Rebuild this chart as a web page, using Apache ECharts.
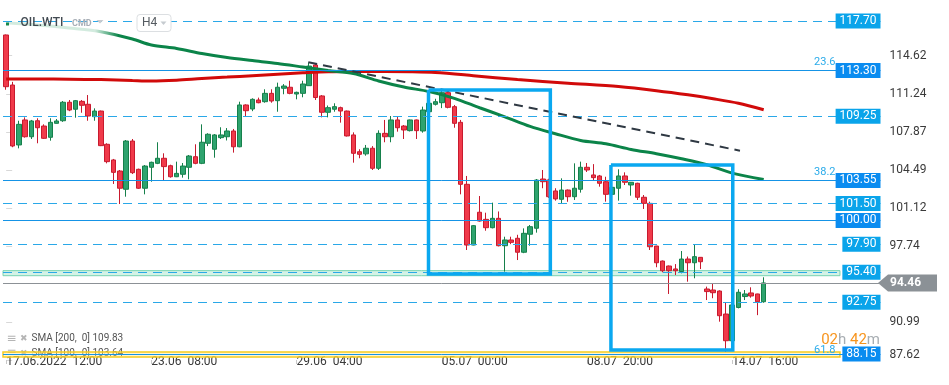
<!DOCTYPE html>
<html><head><meta charset="utf-8">
<script src="https://cdn.jsdelivr.net/npm/echarts@6/dist/echarts.min.js"></script>
<style>html,body{margin:0;padding:0;background:#fff;}#c{width:949px;height:385px;}</style>
</head><body><div id="c"></div>
<script>
// ================= DATA =================
const categories = [
 '17.06 12:00','17.06 16:00','17.06 20:00',
 '20.06 00:00','20.06 04:00','20.06 08:00','20.06 12:00','20.06 16:00','20.06 20:00',
 '21.06 00:00','21.06 04:00','21.06 08:00','21.06 12:00','21.06 16:00','21.06 20:00',
 '22.06 00:00','22.06 04:00','22.06 08:00','22.06 12:00','22.06 16:00','22.06 20:00',
 '23.06 00:00','23.06 04:00','23.06 08:00','23.06 12:00','23.06 16:00','23.06 20:00',
 '24.06 00:00','24.06 04:00','24.06 08:00','24.06 12:00','24.06 16:00','24.06 20:00',
 '27.06 00:00','27.06 04:00','27.06 08:00','27.06 12:00','27.06 16:00','27.06 20:00',
 '28.06 00:00','28.06 04:00','28.06 08:00','28.06 12:00','28.06 16:00','28.06 20:00',
 '29.06 00:00','29.06 04:00','29.06 08:00','29.06 12:00','29.06 16:00','29.06 20:00',
 '30.06 00:00','30.06 04:00','30.06 08:00','30.06 12:00','30.06 16:00','30.06 20:00',
 '01.07 00:00','01.07 04:00','01.07 08:00','01.07 12:00','01.07 16:00','01.07 20:00',
 '04.07 00:00','04.07 04:00','04.07 08:00','04.07 12:00','04.07 16:00','04.07 20:00',
 '05.07 00:00','05.07 04:00','05.07 08:00','05.07 12:00','05.07 16:00','05.07 20:00',
 '06.07 00:00','06.07 04:00','06.07 08:00','06.07 12:00','06.07 16:00','06.07 20:00',
 '07.07 00:00','07.07 04:00','07.07 08:00','07.07 12:00','07.07 16:00','07.07 20:00',
 '08.07 00:00','08.07 04:00','08.07 08:00','08.07 12:00','08.07 16:00','08.07 20:00',
 '11.07 00:00','11.07 04:00','11.07 08:00','11.07 12:00','11.07 16:00','11.07 20:00',
 '12.07 00:00','12.07 04:00','12.07 08:00','12.07 12:00','12.07 16:00','12.07 20:00',
 '13.07 00:00','13.07 04:00','13.07 08:00','13.07 12:00','13.07 16:00','13.07 20:00',
 '14.07 00:00','14.07 04:00','14.07 08:00','14.07 12:00','14.07 16:00','14.07 20:00',
 '15.07 00:00','15.07 04:00','15.07 08:00','15.07 12:00','15.07 16:00','15.07 20:00',
 '18.07 00:00','18.07 04:00','18.07 08:00','18.07 12:00','18.07 16:00','18.07 20:00',
 '19.07 00:00','19.07 04:00','19.07 08:00','19.07 12:00','19.07 16:00','19.07 20:00',
 '20.07 00:00','20.07 04:00','20.07 08:00','20.07 12:00'
];

const opens = [
 116.46,112.02,106.70,108.92,107.43,108.85,108.38,107.38,108.62,108.85,
 110.49,109.87,110.57,110.31,109.21,109.71,106.76,105.37,104.39,102.77,
 107.05,104.54,102.86,104.72,105.07,105.52,104.86,103.88,104.10,104.72,
 105.66,105.07,106.85,106.32,107.35,107.43,107.94,106.54,110.25,109.89,
 110.69,110.54,111.28,110.63,111.73,111.82,111.22,111.28,111.96,113.80,
 111.05,109.60,109.87,110.01,109.71,107.59,106.10,105.91,106.41,104.63,
 107.73,107.43,108.92,108.38,107.97,108.92,107.94,109.65,110.31,110.45,
 111.34,110.10,108.71,103.21,97.82,100.73,100.10,99.36,100.19,97.76,
 98.27,98.42,97.18,98.78,99.31,103.68,103.59,102.62,101.88,102.70,
 102.11,102.77,104.72,104.04,103.95,103.44,102.32,102.86,103.95,103.15,
 103.30,102.06,101.52,97.73,96.40,95.96,95.70,95.47,96.58,96.25,
 96.73,93.92,93.83,93.74,91.70,89.33,92.28,93.25,93.57,93.48,
 92.79
];
const closes = [
 111.87,106.61,108.53,107.43,108.83,108.23,107.29,108.71,108.83,110.49,
 109.80,110.63,110.22,109.27,109.71,106.64,105.22,104.27,102.86,107.05,
 104.24,102.86,104.83,105.16,105.52,104.78,103.88,104.18,104.83,105.72,
 105.07,106.94,107.65,107.59,107.59,107.94,106.54,110.25,109.74,110.75,
 110.45,111.28,110.60,111.82,111.93,111.28,111.37,112.11,113.70,110.91,
 109.60,110.01,110.10,109.71,107.50,105.96,105.87,106.41,104.63,107.73,
 107.43,108.92,108.23,108.03,108.92,107.97,109.80,110.40,110.54,111.34,
 110.04,108.62,103.21,97.82,99.54,99.95,99.36,100.19,97.76,98.27,
 98.06,97.18,98.86,99.45,103.59,103.44,102.11,101.91,102.70,102.11,
 102.86,104.72,104.48,103.80,103.30,102.32,102.94,103.95,103.39,103.39,
 102.06,101.52,97.67,96.25,95.54,95.54,95.54,96.58,96.25,96.79,
 96.34,93.69,93.59,91.55,89.33,92.50,93.63,93.48,93.30,92.79,
 94.46
];
const lows = [
 111.60,106.50,106.40,107.35,107.23,106.85,107.23,107.08,108.60,108.75,
 109.70,109.12,109.56,108.85,108.85,106.60,105.07,103.24,101.46,102.11,
 104.12,102.80,102.32,103.44,105.00,103.59,103.80,103.85,103.80,103.65,
 104.99,105.00,106.60,105.57,107.23,107.10,106.02,106.50,109.21,109.70,
 110.40,110.45,110.45,109.65,111.20,111.20,110.75,110.93,111.96,110.69,
 109.15,109.15,109.65,108.68,107.45,105.13,105.52,105.75,104.48,104.48,
 106.94,106.94,107.88,107.23,107.90,107.23,107.79,109.50,110.20,109.97,
 109.95,108.23,102.32,97.38,97.80,99.90,99.09,99.30,97.70,95.46,
 97.90,96.49,97.10,97.76,98.92,102.86,102.00,101.76,101.46,101.66,
 101.82,102.47,104.30,103.53,103.00,101.67,102.20,101.76,103.15,102.20,
 101.82,101.02,97.38,95.85,95.40,93.48,95.16,95.31,94.57,94.87,
 95.69,92.94,93.10,91.02,88.36,89.20,92.20,92.94,93.15,91.60,
 92.70
];
const highs = [
 116.50,112.30,108.85,109.15,108.92,109.07,108.53,109.07,109.00,110.60,
 110.69,110.69,110.69,111.13,109.95,109.75,106.85,105.46,104.48,107.14,
 107.23,104.60,104.92,105.22,106.94,105.96,104.95,105.22,105.10,105.81,
 106.76,108.53,107.74,107.67,108.27,108.20,108.12,110.54,110.31,110.84,
 110.90,111.64,111.64,112.23,112.10,112.40,111.43,112.40,114.00,113.95,
 111.13,110.20,110.40,110.10,109.75,107.82,106.32,106.70,106.60,108.00,
 108.92,109.27,109.21,108.47,108.95,108.95,110.10,110.60,110.80,111.60,
 111.60,110.25,108.92,103.95,99.60,102.17,100.69,101.58,100.80,98.56,
 98.56,98.73,99.30,99.60,103.68,104.48,103.70,102.86,103.74,102.75,
 105.07,105.22,105.10,105.00,104.04,103.88,103.10,104.54,104.27,103.40,
 103.35,102.26,101.67,97.75,96.45,96.00,96.13,97.29,96.80,97.88,
 96.75,94.13,94.37,93.80,92.74,92.60,93.90,93.83,94.07,93.50,
 94.96
];

// SMA readings: [candle index, value]
const sma200 = [[0,112.55],[5,112.55],[10,112.53],[15,112.50],[20,112.42],[23,112.38],[27,112.45],
 [31,112.60],[35,112.72],[39,112.85],[43,112.98],[47,113.10],[51,113.20],[55,113.22],[60,113.22],
 [64,113.20],[68,113.13],[74,112.85],[81,112.50],[89,112.18],[97,111.88],[103,111.52],[108,111.15],
 [112,110.80],[116,110.40],[120,109.83]];
const sma100 = [[0,117.55],[5,117.35],[10,117.08],[15,116.75],[20,116.10],[23,115.57],[27,115.26],
 [31,114.82],[35,114.46],[39,114.19],[43,113.93],[47,113.62],[51,113.31],[55,113.04],[59,112.38],
 [63,111.84],[67,111.44],[71,110.84],[75,110.00],[79,109.20],[83,108.35],[87,107.70],[91,107.10],
 [95,106.80],[99,106.30],[103,105.92],[107,105.47],[111,104.95],[115,104.20],[120,103.64]];

const levels = [117.70, 113.30, 109.25, 103.55, 101.50, 100.00, 97.90, 95.40, 92.75, 88.15];
const solidLevels = [113.30, 103.55, 100.00, 88.15];
const fibRatios = ['23.6', '38.2', '61.8'];
const fibValues = [113.30, 103.55, 88.15];
const zoneGreen = [95.55, 95.10];
const zoneYellow = [88.32, 87.88];

const trendLine = [[47.86, 114.04], [116.24, 106.19]];
const box1 = {x: [66.9, 86.2], y: [111.58, 95.25]};
const box2 = {x: [95.8, 115.1], y: [104.92, 88.51]};

const xTickCats = ['17.06 12:00','23.06 08:00','29.06 04:00','05.07 00:00','08.07 20:00','14.07 16:00'];
const xTickLabels = ['17.06.2022  12:00','23.06  08:00','29.06  04:00','05.07  00:00','08.07  20:00','14.07  16:00'];
const yTickValues = [87.62, 90.99, 97.74, 101.12, 104.49, 107.87, 111.24, 114.62];

// ================= CHART =================
const xTickIdx = xTickCats.map(c => categories.indexOf(c));
const lastClose = closes[closes.length - 1];
const candles = opens.map((o, i) => [o, closes[i], lows[i], highs[i]]);
const rect = b => [[b.x[0], b.y[0]], [b.x[1], b.y[0]], [b.x[1], b.y[1]], [b.x[0], b.y[1]], [b.x[0], b.y[0]]];

const levelLines = levels.map(v => {
  const solid = solidLevels.indexOf(v) >= 0;
  return {
    yAxis: v,
    lineStyle: {color: solid ? '#1593e6' : '#2aa8e8', type: solid ? 'solid' : [9, 6], width: solid ? 1 : 1.2},
    label: {
      show: true, position: 'insideEnd', distance: 0,
      formatter: () => v.toFixed(2),
      color: '#fff', backgroundColor: solid ? '#0a8cf0' : '#0aa4ea',
      padding: [2, 4, 1, 4], fontSize: 12, lineHeight: 12, fontFamily: 'Roboto'
    }
  };
});
levelLines.push({yAxis: lastClose, lineStyle: {color: '#8c9196', type: 'solid', width: 1}, label: {show: false}});

const fibLines = fibValues.map((v, i) => ({
  yAxis: v,
  lineStyle: {color: 'rgba(0,0,0,0)', width: 1, type: 'solid'},
  label: {show: true, position: 'insideEndTop', distance: [45, i === 2 ? -2 : 3],
    formatter: () => fibRatios[i], color: '#2aabea', fontSize: 11, fontFamily: 'Roboto'}
}));

const greenGrad = new echarts.graphic.LinearGradient(0, 0, 949, 0, [
  {offset: 0, color: '#d3ebdf'}, {offset: 0.10, color: '#d3ebdf'},
  {offset: 0.125, color: '#0b8449'}, {offset: 1, color: '#0b8449'}], true);

const option = {
  animation: false,
  backgroundColor: '#ffffff',
  grid: {left: 3, right: 68.5, top: 0, bottom: 25},
  xAxis: [
    {type: 'category', data: categories, boundaryGap: true,
     axisLine: {show: false}, splitLine: {show: false},
     axisTick: {show: true, alignWithLabel: true, interval: i => xTickIdx.indexOf(i) >= 0, length: 4, lineStyle: {color: '#c8c8c8'}},
     axisLabel: {interval: i => xTickIdx.indexOf(i) >= 0, formatter: (v, i) => xTickLabels[xTickIdx.indexOf(i)] || '',
       align: 'left', margin: -4, color: '#3a3a3a', fontSize: 12, fontFamily: 'Roboto'}},
    {type: 'value', min: -0.5, max: categories.length - 0.5, show: false}
  ],
  yAxis: {type: 'value', position: 'right', min: 87.62, max: 119.563,
    splitLine: {show: false}, axisLine: {show: false},
    axisTick: {show: true, customValues: yTickValues, length: 6, lineStyle: {color: '#d8d8d8'}},
    axisLabel: {customValues: yTickValues, margin: 9, color: '#3a3a3a', fontSize: 12, fontFamily: 'Roboto',
      formatter: v => Math.abs(v - yTickValues[0]) < 1e-6 ? '{low|' + v.toFixed(2) + '}' : v.toFixed(2),
      rich: {low: {padding: [0, 0, 10, 0], fontSize: 12, color: '#3a3a3a', fontFamily: 'Roboto'}}}},
  series: [
    {type: 'candlestick', name: 'OIL.WTI', xAxisIndex: 0, yAxisIndex: 0, data: candles, barWidth: 5, z: 3,
     itemStyle: {color: '#2ea36e', color0: '#f03a4a', borderColor: '#16804b', borderColor0: '#c81a2e', borderWidth: 1},
     markLine: {silent: true, symbol: ['none', 'none'], animation: false, data: levelLines.concat(fibLines)}},
    {type: 'line', name: 'SMA200', xAxisIndex: 1, yAxisIndex: 0, data: sma200, smooth: 0.3, showSymbol: false, silent: true, z: 4,
     lineStyle: {color: '#d10a0a', width: 3}},
    {type: 'line', name: 'SMA100', xAxisIndex: 1, yAxisIndex: 0, data: sma100, smooth: 0.3, showSymbol: false, silent: true, z: 4,
     lineStyle: {color: greenGrad, width: 3}},
    {type: 'line', name: 'trend', xAxisIndex: 1, yAxisIndex: 0, data: trendLine, showSymbol: false, silent: true, z: 5,
     lineStyle: {color: '#2f3943', width: 2, type: [9, 6]},
     markArea: {silent: true, data: [
       [{xAxis: -0.5, yAxis: zoneGreen[0], itemStyle: {color: 'rgba(160,226,200,0.45)', borderColor: 'rgba(110,208,170,0.9)', borderWidth: 1}},
        {xAxis: 132.08, yAxis: zoneGreen[1]}],
       [{xAxis: -0.5, yAxis: zoneYellow[0], itemStyle: {color: 'rgba(255,232,120,0.35)', borderColor: '#f5cb1f', borderWidth: 1.5}},
        {xAxis: 132.08, yAxis: zoneYellow[1]}]
     ]}},
    {type: 'line', name: 'box1', xAxisIndex: 1, yAxisIndex: 0, data: rect(box1), showSymbol: false, silent: true, z: 6,
     lineStyle: {color: '#0aa8f0', width: 3.5, join: 'miter'}},
    {type: 'line', name: 'box2', xAxisIndex: 1, yAxisIndex: 0, data: rect(box2), showSymbol: false, silent: true, z: 6,
     lineStyle: {color: '#0aa8f0', width: 3.5, join: 'miter'}}
  ]
};

const chart = echarts.init(document.getElementById('c'), null, {renderer: 'canvas'});
chart.setOption(option);

const tagY = chart.convertToPixel({yAxisIndex: 0}, lastClose);
const sma200Last = sma200[sma200.length - 1][1].toFixed(2);
const sma100Last = sma100[sma100.length - 1][1].toFixed(2);

chart.setOption({graphic: [
  // price tag
  {type: 'polygon', z: 100, shape: {points: [[878, tagY], [888, tagY - 8.5], [937, tagY - 8.5], [937, tagY + 8.5], [888, tagY + 8.5]]},
   style: {fill: '#8b9196'}},
  {type: 'text', z: 101, x: 890, y: tagY + 0.5, style: {text: lastClose.toFixed(2), fill: '#ffffff', font: 'bold 12px Roboto', align: 'left', verticalAlign: 'middle'}},
  // header
  {type: 'rect', z: 100, shape: {x: 6, y: 22.5, width: 3, height: 3}, style: {fill: '#17884c'}},
  {type: 'text', z: 100, x: 20.5, y: 23, style: {text: 'OIL.WTI', font: '500 12px Roboto', fill: '#424a52', verticalAlign: 'middle'}},
  {type: 'text', z: 100, x: 72, y: 24, style: {text: 'CMD', font: 'bold 9px Roboto', fill: '#a8afb7', verticalAlign: 'middle'}},
  {type: 'polygon', z: 100, shape: {points: [[96.5, 20], [103.5, 20], [100, 23.5]]}, style: {fill: '#c6cbd0'}},
  {type: 'rect', z: 100, shape: {x: 137, y: 14.5, width: 34, height: 17, r: 3}, style: {fill: '#ffffff', stroke: '#dcdfe2', lineWidth: 1}},
  {type: 'text', z: 101, x: 142, y: 23.3, style: {text: 'H4', font: '12px Roboto', fill: '#555b61', verticalAlign: 'middle'}},
  {type: 'polygon', z: 101, shape: {points: [[160.5, 21.5], [166.5, 21.5], [163.5, 25]]}, style: {fill: '#c6cbd0'}},
  // countdown
  {type: 'text', z: 100, x: 880, y: 340.5, style: {text: '{o|02}{g|h} {o|42}{g|m}', align: 'right', verticalAlign: 'middle',
    font: '15px Roboto', rich: {o: {fill: '#f7941d', fontSize: 15, fontFamily: 'Roboto'}, g: {fill: '#a7adb2', fontSize: 15, fontFamily: 'Roboto'}}}},
  // SMA legend
  {type: 'text', z: 0, x: 6.5, y: 338.5, style: {text: '≡', font: '12px DejaVu Sans', fill: '#b5b5b5', verticalAlign: 'middle'}},
  {type: 'text', z: 0, x: 20, y: 338.5, style: {text: '✖', font: '9px DejaVu Sans', fill: '#b5b5b5', verticalAlign: 'middle'}},
  {type: 'text', z: 0, x: 31.5, y: 338.5, style: {text: 'SMA [200,  0] ' + sma200Last, font: '10px Roboto', fill: '#555555', verticalAlign: 'middle'}},
  {type: 'text', z: 0, x: 6.5, y: 353.3, style: {text: '≡', font: '12px DejaVu Sans', fill: '#b5b5b5', verticalAlign: 'middle'}},
  {type: 'text', z: 0, x: 20, y: 353.3, style: {text: '✖', font: '9px DejaVu Sans', fill: '#b5b5b5', verticalAlign: 'middle'}},
  {type: 'text', z: 0, x: 31.5, y: 353.3, style: {text: 'SMA [100,  0] ' + sma100Last, font: '10px Roboto', fill: '#555555', verticalAlign: 'middle'}}
]});
</script>
</body></html>
